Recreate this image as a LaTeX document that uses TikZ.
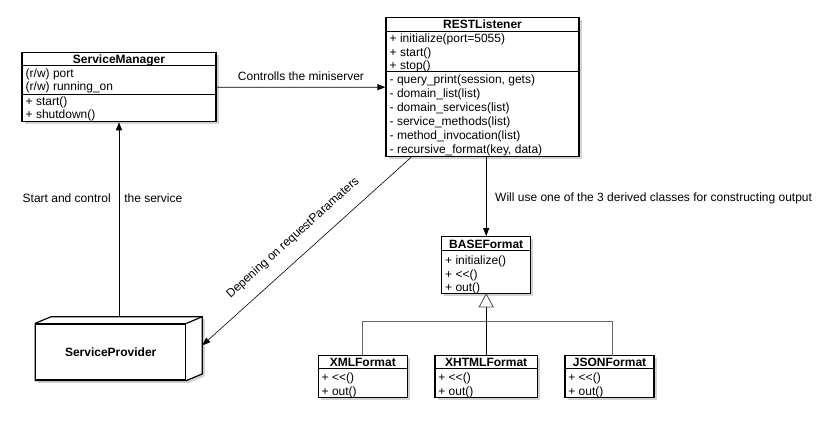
\documentclass[tikz,border=0pt]{standalone}
\usepackage{fontspec}
\setmainfont{Liberation Sans}
\usetikzlibrary{shadows,arrows.meta,calc,backgrounds}
\begin{document}
\begin{tikzpicture}[x=1pt,y=-1pt,
  every node/.style={font=\fontsize{12}{14}\selectfont, inner sep=0pt},
  shd/.style={drop shadow={shadow xshift=2.5pt,shadow yshift=-2.5pt,opacity=0.35}},
  cls/.style={draw, line width=1.2pt, fill=white, shd},
  row/.style={anchor=base west},
  ttl/.style={anchor=base, font=\fontsize{12}{14}\selectfont\bfseries},
  sep/.style={line width=0.9pt},
  conn/.style={line width=0.8pt, -{Triangle[length=8pt,width=6pt]}},
  inh/.style={line width=0.8pt, draw=black!60},
  lbl/.style={anchor=base}]
\useasboundingbox (0,0) rectangle (829,422);

% ServiceManager
\node[cls, minimum width=194pt, minimum height=69pt] (sm) at (119,87.2) {};
\node[ttl] (smt) at (119,63.6) {ServiceManager};
\draw[sep] ($(sm.north west)+(0,13.3)$) -- ($(sm.north east)+(0,13.3)$);
\draw[sep] ($(sm.north west)+(0,42.3)$) -- ($(sm.north east)+(0,42.3)$);
\node[row] (sm1) at (25.5,77.5) {(r/w) port};
\node[row] (sm2) at (25.5,91) {(r/w) running\_on};
\node[row] (sm3) at (25.5,105.2) {+ start()};
\node[row] (sm4) at (25.5,119) {+ shutdown()};

% RESTListener
\node[cls, minimum width=193pt, minimum height=139.4pt] (rl) at (482.5,87) {};
\node[ttl] (rlt) at (482.5,28.6) {RESTListener};
\draw[sep] ($(rl.north west)+(0,14.4)$) -- ($(rl.north east)+(0,14.4)$);
\draw[sep] ($(rl.north west)+(0,55)$) -- ($(rl.north east)+(0,55)$);
\node[row] (rl1) at (389.5,42.4) {+ initialize(port=5055)};
\node[row] (rl2) at (389.5,56.4) {+ start()};
\node[row] (rl3) at (389.5,69.8) {+ stop()};
\node[row] (rl4) at (389.5,84) {- query\_print(session, gets)};
\node[row] (rl5) at (389.5,98) {- domain\_list(list)};
\node[row] (rl6) at (389.5,111.8) {- domain\_services(list)};
\node[row] (rl7) at (389.5,125.8) {- service\_methods(list)};
\node[row] (rl8) at (389.5,139.8) {- method\_invocation(list)};
\node[row] (rl9) at (389.5,153.4) {- recursive\_format(key, data)};

% BASEFormat
\node[cls, minimum width=89pt, minimum height=56.6pt] (bf) at (486.2,265) {};
\node[ttl] (bft) at (486.2,248) {BASEFormat};
\draw[sep] ($(bf.north west)+(0,14)$) -- ($(bf.north east)+(0,14)$);
\node[row] (bf1) at (445,264.2) {+ initialize()};
\node[row] (bf2) at (445,278.2) {+ <\kern0pt<()};
\node[row] (bf3) at (445,291.4) {+ out()};

% Derived formats
\node[cls, minimum width=89pt, minimum height=41.6pt] (xml) at (362.8,376.5) {};
\node[ttl] (xmlt) at (362.8,366.6) {XMLFormat};
\draw[sep] ($(xml.north west)+(0,13.6)$) -- ($(xml.north east)+(0,13.6)$);
\node[row] (xml1) at (321.5,381.4) {+ <\kern0pt<()};
\node[row] (xml2) at (321.5,395.3) {+ out()};

\node[cls, minimum width=102.3pt, minimum height=41.6pt] (xhtml) at (486.2,376.5) {};
\node[ttl] (xhtmlt) at (486.2,366.6) {XHTMLFormat};
\draw[sep] ($(xhtml.north west)+(0,13.6)$) -- ($(xhtml.north east)+(0,13.6)$);
\node[row] (xhtml1) at (438.2,381.4) {+ <\kern0pt<()};
\node[row] (xhtml2) at (438.2,395.3) {+ out()};

\node[cls, minimum width=89pt, minimum height=41.6pt] (json) at (609.5,376.5) {};
\node[ttl] (jsont) at (609.5,366.6) {JSONFormat};
\draw[sep] ($(json.north west)+(0,13.6)$) -- ($(json.north east)+(0,13.6)$);
\node[row] (json1) at (568.2,381.4) {+ <\kern0pt<()};
\node[row] (json2) at (568.2,395.3) {+ out()};

% ServiceProvider (3D box)
\node[draw, line width=1.2pt, fill=white, minimum width=150pt, minimum height=56pt,
      font=\fontsize{12}{14}\selectfont\bfseries] (sp) at (110.7,352) {ServiceProvider};
\coordinate (spbnw) at ($(sp.north west)+(16,-6.7)$);
\coordinate (spbne) at ($(sp.north east)+(16,-6.7)$);
\coordinate (spbse) at ($(sp.south east)+(16,-6.7)$);
\begin{scope}[on background layer]
\draw[line width=1.2pt, fill=white, shd] (sp.north west) -- (spbnw) -- (spbne) -- (spbse)
  -- (sp.south east) -- (sp.south west) -- cycle;
\draw[line width=1.2pt] (sp.north east) -- (spbne);
\end{scope}

% connectors
\draw[conn] ($(sm.east)+(0,0.1)$) -- node[lbl, above=6pt] (l1) {Controlls the miniserver} (rl.west |- sm.east);
\draw[conn] (sm.south |- spbnw) -- (sm.south);
\node[lbl] (l2) at (66.7,202) {Start and control};
\node[lbl] (l3) at (153.3,202) {the service};
\coordinate (dstart) at ($(rl.south west)+(25.7,0)$);
\coordinate (spr) at ($(sp.east)+(16,-6.7)$);
\draw[conn, line width=0.6pt] (dstart) -- (spr);
\node[rotate=42] (l4) at (293,238) {Depening on requestParamaters};
\draw[conn] (rl.south -| bf.north) -- (bf.north);
\node[anchor=base west] (l5) at (495,201.5) {Will use one of the 3 derived classes for constructing output};

% inheritance
\coordinate (tri) at ($(bf.south)+(0,13)$);
\coordinate (bus) at (486.2,321.7);
\draw[inh] (xml.north) |- (bus) -| (612,355.7) coordinate (jtop);
\draw[line width=0.8pt] (tri) -- (xhtml.north);
\draw[line width=0.8pt, draw=black!70, fill=white] (bf.south) -- ($(tri)+(-7,0)$) -- ($(tri)+(7,0)$) -- cycle;
\end{tikzpicture}
\end{document}
